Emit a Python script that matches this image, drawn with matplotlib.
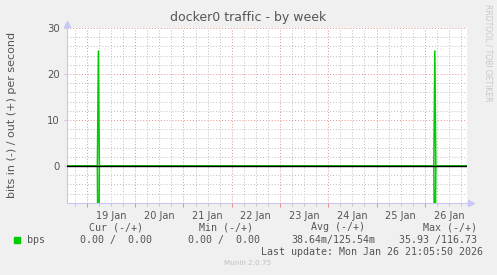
import datetime as dt
import matplotlib
matplotlib.use("Agg")
import matplotlib.pyplot as plt
import matplotlib.dates as mdates

# chart data
title = "docker0 traffic - by week"
ylabel = "bits in (-) / out (+) per second"
x_start = dt.datetime(2026, 1, 18, 13, 55)
x_end = dt.datetime(2026, 1, 26, 21, 0)
spike_times = [dt.datetime(2026, 1, 19, 5, 40), dt.datetime(2026, 1, 26, 5, 0)]
out_peaks = [25.0, 25.0]      # out (+)
in_peaks = [35.93, 30.0]      # in (-), clipped at the bottom
y_ticks = [0, 10, 20, 30]
day_labels = ["19 Jan", "20 Jan", "21 Jan", "22 Jan", "23 Jan", "24 Jan", "25 Jan", "26 Jan"]

legend_cols = ["Cur (-/+)", "Min (-/+)", "Avg (-/+)", "Max (-/+)"]
legend_vals = ["0.00 /  0.00", "0.00 /  0.00", "38.64m/125.54m", "35.93 /116.73"]
last_update = "Last update: Mon Jan 26 21:05:50 2026"
version = "Munin 2.0.75"

W, H = 497, 275
BG = "#F0F0F0"
TXT = "#555555"
GREEN = "#00CC00"
AXBLUE = "#C8C8F4"


def series(peaks, sign):
    half = dt.timedelta(minutes=30)
    xs, ys = [x_start], [0.0]
    for t, p in zip(spike_times, peaks):
        xs += [t - half, t, t + half]
        ys += [0.0, sign * p, 0.0]
    xs.append(x_end)
    ys.append(0.0)
    return xs, ys


fig = plt.figure(figsize=(W / 100, H / 100), dpi=100, facecolor=BG)
# plot area in pixels: x 66.7..467, y 28..203.3
ax = fig.add_axes([66.7 / W, 1 - 203.3 / H, (467 - 66.7) / W, (203.3 - 28) / H])
ax.set_facecolor("white")

ax.set_xlim(x_start, x_end)
ax.set_ylim(-8.1, 30)

# grid
ax.xaxis.set_major_locator(mdates.DayLocator())
ax.xaxis.set_minor_locator(mdates.HourLocator(byhour=[6, 12, 18]))
ax.set_yticks(y_ticks)
ax.set_yticks([v for v in range(-8, 31, 2) if v % 10], minor=True)
ax.grid(True, which="minor", color="#BEBEBE", linestyle=(0, (1, 2)), linewidth=0.7)
ax.grid(True, which="major", color="#E89090", linestyle=(0, (1, 2)), linewidth=0.7)
ax.set_axisbelow(True)

ax.tick_params(axis="x", which="major", length=3, color="#E89090", labelbottom=False)
ax.tick_params(axis="x", which="minor", length=2, color="#C0C0C0")
ax.tick_params(axis="y", which="major", length=2, color=AXBLUE, labelsize=7.3,
               labelcolor=TXT, pad=3)
ax.tick_params(axis="y", which="minor", length=0)

# day labels at noon
for i, lab in enumerate(day_labels):
    noon = dt.datetime(2026, 1, 19, 12) + dt.timedelta(days=i)
    ax.text(noon, -0.045, lab, transform=ax.get_xaxis_transform(), ha="center",
            va="top", fontsize=7.0, color=TXT)

for s in ["top", "right"]:
    ax.spines[s].set_visible(False)
for s in ["left", "bottom"]:
    ax.spines[s].set_color(AXBLUE)
    ax.spines[s].set_linewidth(0.8)

# axis arrows
ax.plot([0], [1.02], marker="^", color=AXBLUE, markersize=4, transform=ax.transAxes, clip_on=False)
ax.plot([1.01], [0], marker=">", color=AXBLUE, markersize=4, transform=ax.transAxes, clip_on=False)

xo, yo = series(out_peaks, 1)
xi, yi = series(in_peaks, -1)
ax.plot(xo, yo, color=GREEN, linewidth=1.1, zorder=3)
ax.plot(xi, yi, color=GREEN, linewidth=1.1, zorder=3)
ax.axhline(0, color="black", linewidth=1.0, zorder=4)

# texts
fig.text(248 / W, 1 - 18 / H, title, ha="center", va="center", fontsize=9.0, color=TXT)
fig.text(12 / W, 1 - 115 / H, ylabel, rotation=90, ha="center", va="center",
         fontsize=8.0, color=TXT)
fig.text(488 / W, 1 - 53 / H, "RRDTOOL / TOBI OETIKER", rotation=270, ha="center",
         va="center", fontsize=5.5, color="#C8C8C8")

mono = "DejaVu Sans Mono"
col_right = [143, 253, 365, 477]
val_right = [152, 260, 375, 477]
for c, r in zip(legend_cols, col_right):
    fig.text(r / W, 1 - 227 / H, c, ha="right", va="center", fontsize=7.2,
             family=mono, color=TXT)
for v, r in zip(legend_vals, val_right):
    fig.text(r / W, 1 - 240 / H, v, ha="right", va="center", fontsize=7.2,
             family=mono, color=TXT)
fig.patches.append(plt.Rectangle((14 / W, 1 - 243 / H), 6 / W, 6 / H,
                                 transform=fig.transFigure, color=GREEN))
fig.text(27 / W, 1 - 240 / H, "bps", ha="left", va="center", fontsize=7.2,
         family=mono, color=TXT)
fig.text(483 / W, 1 - 252 / H, last_update, ha="right", va="center", fontsize=7.2,
         family=mono, color=TXT)
fig.text(248 / W, 1 - 263 / H, version, ha="center", va="center", fontsize=5.2,
         color="#C0C0C0")

fig.savefig("out.png", dpi=100, facecolor=BG)
